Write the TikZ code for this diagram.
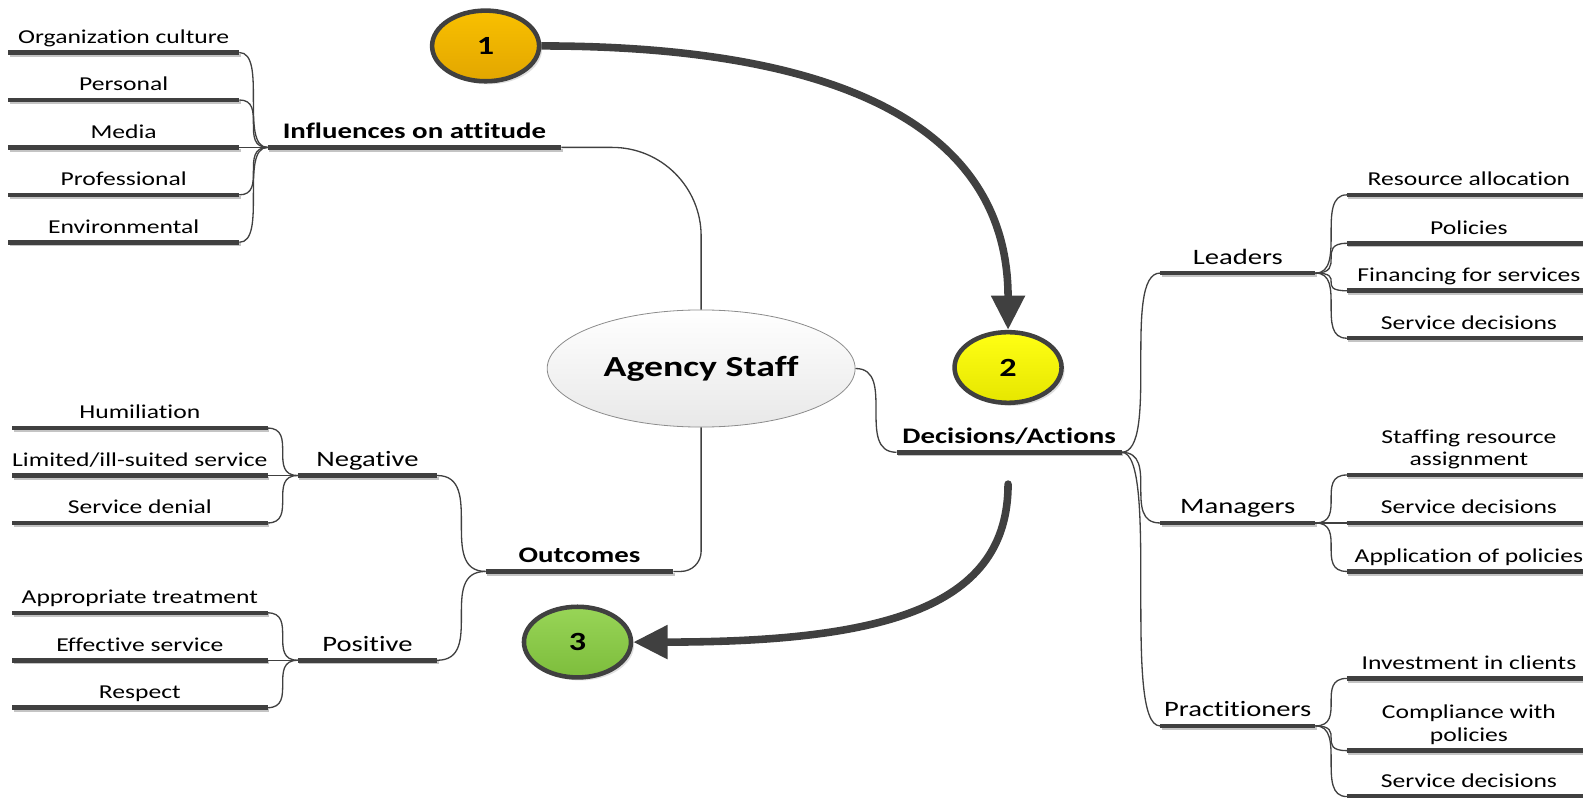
\documentclass[tikz,border=0pt]{standalone}
\usepackage{fontspec}
\setmainfont{Carlito}[FakeStretch=1.30,Ligatures=NoCommon]
\usetikzlibrary{shapes.geometric,arrows.meta,shadows,calc}
\definecolor{dk}{HTML}{404040}
\definecolor{ulsh}{HTML}{C4C4C4}
\definecolor{orT}{HTML}{F9C000}
\definecolor{orB}{HTML}{E2A600}
\definecolor{yeT}{HTML}{FFFF14}
\definecolor{yeB}{HTML}{E6E600}
\definecolor{grT}{HTML}{98D557}
\definecolor{grB}{HTML}{7DBD3C}
\tikzset{
  base/.style={anchor=south west, inner xsep=0pt, inner ysep=5pt, outer sep=0pt, text depth=4pt, align=center},
  leaf/.style={base, font=\fontsize{19.5}{22.5}\selectfont, minimum width=#1},
  mid/.style={base, font=\fontsize{21.8}{24}\selectfont, minimum width=#1},
  topic/.style={base, font=\bfseries\fontsize{22}{24}\selectfont, minimum width=#1},
  ul/.style={draw=dk, line width=4.5pt},
  ulshadow/.style={draw=ulsh, line width=3pt},
  conn/.style={draw=dk, line width=1.3pt},
  sconn/.style={conn, to path={let \p1=(\tikztostart), \p2=(\tikztotarget) in .. controls (\x2,\y1) and (\x1,\y2) .. (\tikztotarget) \tikztonodes}},
  staffnode/.style={ellipse, minimum width=305pt, minimum height=116pt, inner sep=0pt, draw=black!45, line width=0.8pt, top color=white, bottom color=black!9, font=\bfseries\fontsize{28.8}{31}\selectfont},
  numnode/.style={ellipse, minimum width=106pt, minimum height=70pt, inner sep=0pt, draw=dk, line width=4.5pt, font=\bfseries\fontsize{26}{28}\selectfont, drop shadow={opacity=0.25, shadow xshift=3pt, shadow yshift=-3pt}},
  bigarrow/.style={draw=dk, line width=7.5pt, -{Triangle[length=34pt,width=32pt]}}
}
\begin{document}
\begin{tikzpicture}[x=1pt,y=-1pt]
\useasboundingbox (0,0) rectangle (1568,790.4);

% ---------- left top ----------
\node[leaf=229] (oc) at (8,52) {Organization culture};
\node[leaf=229] (pe) at (8,99) {Personal};
\node[leaf=229] (me) at (8,146) {Media};
\node[leaf=229] (pr) at (8,193) {Professional};
\node[leaf=229] (en) at (8,240) {Environmental};
\node[topic=291] (inf) at (265,146) {Influences on attitude};

% ---------- centre ----------
\node[staffnode] (staff) at (694.5,365) {Agency Staff};

% ---------- left bottom ----------
\node[leaf=253] (hu) at (12,424) {Humiliation};
\node[leaf=253] (li) at (12,471) {Limited/ill-suited service};
\node[leaf=253] (sd) at (12,518) {Service denial};
\node[mid=138] (neg) at (295,471) {Negative};
\node[leaf=253] (ap) at (12,607) {Appropriate treatment};
\node[leaf=253] (ef) at (12,654) {Effective service};
\node[leaf=253] (re) at (12,701) {Respect};
\node[mid=138] (pos) at (295,654) {Positive};
\node[topic=186] (out) at (481,566) {Outcomes};

% ---------- right ----------
\node[topic=223] (dec) at (888,448) {Decisions/Actions};
\node[mid=154] (lea) at (1149,270.5) {Leaders};
\node[mid=154] (man) at (1149,518) {Managers};
\node[mid=154] (pra) at (1149,719) {Practitioners};
\node[leaf=242] (ra) at (1334,193) {Resource allocation};
\node[leaf=242] (po) at (1334,241) {Policies};
\node[leaf=242] (fi) at (1334,288) {Financing for services};
\node[leaf=242] (sl) at (1334,335) {Service decisions};
\node[leaf=242] (st) at (1334,470.5) {Staffing resource\\assignment};
\node[leaf=242] (sm) at (1334,518) {Service decisions};
\node[leaf=242] (apl) at (1334,566) {Application of policies};
\node[leaf=242] (inv) at (1334,672) {Investment in clients};
\node[leaf=242] (co) at (1334,743.5) {Compliance with\\policies};
\node[leaf=242] (sp) at (1334,789) {Service decisions};

% ---------- underlines ----------
\foreach \nm in {oc,pe,me,pr,en,inf,hu,li,sd,neg,ap,ef,re,pos,out,dec,lea,man,pra,ra,po,fi,sl,st,sm,apl,inv,co,sp} {
  \draw[ulshadow] ([shift={(1.5,2.6)}]\nm.south west) -- ([shift={(1.5,2.6)}]\nm.south east);
  \draw[ul] (\nm.south west) -- (\nm.south east);
}

% ---------- connectors ----------
\foreach \c in {oc,pe,me,pr,en} \draw[sconn] (\c.south east) to (inf.south west);
\draw[conn, rounded corners=88pt] (inf.south east) -| (staff.north);
\draw[conn, rounded corners=20pt] (staff.south) |- (out.south east);
\foreach \c in {hu,li,sd} \draw[sconn] (\c.south east) to (neg.south west);
\foreach \c in {ap,ef,re} \draw[sconn] (\c.south east) to (pos.south west);
\draw[sconn] (neg.south east) to (out.south west);
\draw[sconn] (pos.south east) to (out.south west);
\draw[sconn] (staff.east) to (dec.south west);
\foreach \c in {lea,man,pra} \draw[sconn] (dec.south east) to (\c.south west);
\foreach \c in {ra,po,fi,sl} \draw[sconn] (lea.south east) to (\c.south west);
\foreach \c in {st,sm,apl} \draw[sconn] (man.south east) to (\c.south west);
\foreach \c in {inv,co,sp} \draw[sconn] (pra.south east) to (\c.south west);

% ---------- numbered circles ----------
\node[numnode, top color=orT, bottom color=orB] (c1) at (481,45.5) {1};
\node[numnode, top color=yeT, bottom color=yeB] (c2) at (998.5,364) {2};
\node[numnode, top color=grT, bottom color=grB] (c3) at (572,636) {3};

% ---------- big arrows ----------
\coordinate (a2s) at (998.5,479.5);
\draw[bigarrow] (c1.east) .. controls (830,45.5) and (998.5,125) .. (c2.north);
\draw[bigarrow, line cap=round] (a2s) .. controls (998.5,600) and (880,636) .. (c3.east);
\end{tikzpicture}
\end{document}
